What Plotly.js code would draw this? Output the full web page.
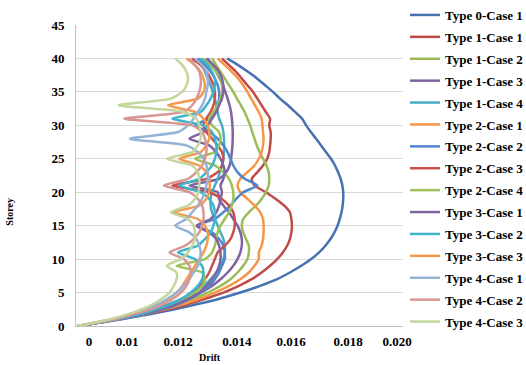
<!DOCTYPE html>
<html>
<head>
<meta charset="utf-8">
<script src="https://cdn.plot.ly/plotly-3.0.1.min.js"></script>
<style>
html,body{margin:0;padding:0;background:#ffffff;}
#chart{width:526px;height:365px;}
</style>
</head>
<body>
<div id="chart"></div>
<script>
// Storey levels (y values)
const storeys = [0,1,2,3,4,5,6,7,8,9,10,11,12,13,14,15,16,17,18,19,20,
                 21,22,23,24,25,26,27,28,29,30,31,32,33,34,35,36,37,38,39,40];

const seriesNames = ['Type 0-Case 1','Type 1-Case 1','Type 1-Case 2','Type 1-Case 3','Type 1-Case 4',
                     'Type 2-Case 1','Type 2-Case 2','Type 2-Case 3','Type 2-Case 4',
                     'Type 3-Case 1','Type 3-Case 2','Type 3-Case 3',
                     'Type 4-Case 1','Type 4-Case 2','Type 4-Case 3'];

// Drift values, in units of 1e-3 (storey 0 ... 40)
const t0c1 = [8.47,10.0,11.3,12.4,13.4,14.2,14.9,15.5,15.95,16.35,
              16.7,16.98,17.2,17.38,17.52,17.63,17.71,17.77,17.81,17.83,
              17.83,17.8,17.74,17.65,17.54,17.4,17.22,17.05,16.87,16.69,
              16.52,16.38,16.13,15.88,15.6,15.35,15.07,14.79,14.47,14.12,
              13.73];
const t1c1 = [8.47,9.9,11.1,12.1,12.9,13.6,14.15,14.6,14.95,15.25,
              15.5,15.7,15.85,15.95,16.0,16.02,16.0,15.95,15.75,15.45,
              15.1,14.7,14.6,14.8,15.0,15.15,15.22,15.25,15.27,15.27,
              15.22,15.25,15.1,14.95,14.8,14.65,14.45,14.25,14.05,13.8,
              13.55];
const t1c2 = [8.47,9.8,10.9,11.8,12.5,13.05,13.5,13.85,14.1,14.3,
              14.45,14.5,14.5,14.4,14.3,14.25,14.3,14.5,14.75,14.95,
              15.1,15.2,15.22,15.2,15.12,15.0,14.88,14.78,14.7,14.62,
              14.55,14.45,14.35,14.22,14.08,13.95,13.8,13.65,13.5,13.35,
              13.2];
const t1c3 = [8.47,9.75,10.8,11.65,12.3,12.8,13.2,13.5,13.75,13.95,
              14.1,14.2,14.25,14.25,14.2,14.1,13.95,13.8,13.6,13.45,
              13.4,12.4,13.45,13.7,13.82,13.87,13.9,13.92,13.93,13.93,
              13.92,13.9,13.87,13.82,13.75,13.67,13.58,13.47,13.35,13.2,
              13.05];
const t1c4 = [8.47,9.7,10.7,11.5,12.1,12.55,12.9,13.15,13.35,13.5,
              13.6,13.65,13.65,13.6,13.5,13.4,13.3,13.2,13.15,13.15,
              13.2,13.3,13.4,13.48,13.55,13.6,13.62,13.63,13.62,13.6,
              13.55,13.45,13.4,13.35,13.3,13.22,13.15,13.05,12.95,12.85,
              12.75];
const t2c1 = [8.47,9.85,11.0,11.95,12.7,13.3,13.8,14.2,14.5,14.7,
              14.85,14.85,14.95,15.0,15.02,15.02,15.0,14.9,14.7,14.45,
              14.2,14.1,14.2,14.45,14.7,14.85,14.95,15.0,15.02,15.0,
              14.98,14.95,14.85,14.72,14.58,14.45,14.3,14.12,13.9,13.65,
              13.4];
const t2c2 = [8.47,9.95,11.05,11.85,12.4,12.8,13.1,13.3,13.45,13.55,
              13.65,13.65,13.6,13.45,13.2,12.7,13.3,13.6,13.85,14.05,
              14.3,14.8,14.35,14.1,13.95,13.85,13.75,13.6,13.4,13.1,
              12.6,13.1,13.3,13.4,13.45,13.45,13.4,13.3,13.15,12.95,
              12.7];
const t2c3 = [8.47,9.9,10.9,11.65,12.15,12.5,12.75,12.95,13.1,13.2,
              13.3,13.4,13.65,13.85,13.95,14.0,14.0,13.95,13.8,13.55,
              13.1,11.8,13.0,13.4,13.55,13.6,13.55,13.4,13.2,13.0,
              12.9,13.0,13.15,13.25,13.3,13.3,13.25,13.15,13.0,12.8,
              12.5];
const t2c4 = [8.47,9.9,11.0,11.75,12.25,12.6,12.85,12.95,12.85,11.95,
              12.95,13.2,13.3,13.35,13.4,13.5,13.65,13.8,13.9,13.95,
              13.95,13.9,13.8,13.6,13.3,12.6,13.3,13.45,13.5,13.45,
              13.2,13.1,13.25,13.4,13.5,13.55,13.55,13.5,13.35,13.15,
              12.9];
const t3c1 = [8.47,9.9,11.0,11.8,12.35,12.75,13.0,13.2,13.35,13.45,
              13.5,13.5,13.45,13.35,13.1,12.65,13.15,13.35,13.45,13.5,
              13.55,13.5,13.6,13.65,13.6,13.5,13.35,13.1,12.4,12.9,
              13.05,13.2,13.35,13.45,13.55,13.6,13.6,13.55,13.45,13.25,
              13.0];
const t3c2 = [8.47,9.85,10.85,11.6,12.1,12.45,12.7,12.85,12.9,12.85,
              12.6,12.0,12.7,12.95,13.15,13.25,13.3,13.3,13.25,13.1,
              12.8,12.05,12.75,13.0,13.2,13.3,13.35,13.35,13.3,13.2,
              12.9,11.8,12.8,13.0,13.15,13.25,13.3,13.3,13.2,13.05,
              12.8];
const t3c3 = [8.47,9.7,10.55,11.2,11.65,11.95,12.15,12.3,12.45,12.6,
              12.75,12.9,13.0,13.05,13.05,12.95,12.7,11.85,12.75,13.0,
              13.1,13.12,13.1,13.0,12.75,12.05,12.8,13.0,13.1,13.1,
              13.05,12.9,12.6,11.65,12.7,12.9,12.95,12.9,12.8,12.6,
              12.3];
const t4c1 = [8.47,9.7,10.5,11.15,11.6,11.95,12.2,12.4,12.55,12.7,
              12.78,12.8,12.75,12.65,12.4,11.9,12.3,12.5,12.7,12.85,
              12.95,13.0,13.05,13.05,13.0,12.9,12.7,12.3,10.3,12.0,
              12.35,12.55,12.7,12.85,12.95,13.0,13.05,13.05,13.0,12.85,
              12.6];
const t4c2 = [8.47,9.75,10.65,11.35,11.8,12.1,12.3,12.4,12.45,12.4,
              12.2,11.7,12.25,12.55,12.75,12.85,12.9,12.9,12.85,12.7,
              12.4,11.5,12.35,12.65,12.85,12.95,13.0,13.0,12.95,12.85,
              12.5,10.1,12.2,12.5,12.65,12.75,12.8,12.8,12.75,12.6,
              12.4];
const t4c3 = [8.47,9.6,10.4,11.0,11.4,11.7,11.85,11.95,11.95,11.6,
              12.1,12.35,12.5,12.6,12.6,12.55,12.35,11.75,12.35,12.6,
              12.72,12.75,12.75,12.7,12.5,11.6,12.5,12.7,12.8,12.8,
              12.75,12.65,12.2,9.9,11.75,12.15,12.3,12.35,12.3,12.15,
              11.9];

const driftSeries = [t0c1,t1c1,t1c2,t1c3,t1c4,t2c1,t2c2,t2c3,t2c4,t3c1,t3c2,t3c3,t4c1,t4c2,t4c3];

// Tick labels of the drift axis as printed in the picture, and where they sit
const xTickText = ['0','0.01','0.012','0.014','0.016','0.018','0.020'];
const xTickVals = [0.00886,0.0102,0.012,0.01408,0.01599,0.018,0.01973];
const yTickVals = [0,5,10,15,20,25,30,35,40,45];

// Styles
const seriesColors = ['#4572B0','#BE4B48','#9BBB59','#7F62A1','#4BACC6',
                      '#F79646','#4F87CC','#C9504D','#9CC258',
                      '#8064A2','#3DB3CC','#F59A4C',
                      '#95B3D7','#D99694','#C3D69B'];

const serif = 'Liberation Serif, Times New Roman, serif';
const traces = driftSeries.map((arr, i) => ({
  type: 'scatter',
  mode: 'lines',
  name: seriesNames[i],
  legendgroup: 'g' + i,
  x: arr.map(v => v / 1000),
  y: storeys,
  line: {color: seriesColors[i], width: 2.5, shape: 'spline', smoothing: 0.6},
  hoverinfo: 'x+y+name'
}));

const tickFont = {family: serif, size: 13, color: '#000000', weight: 'bold'};

const layout = {
  width: 526,
  height: 365,
  margin: {l: 76, r: 123, t: 25, b: 39, pad: 0},
  paper_bgcolor: '#ffffff',
  plot_bgcolor: '#ffffff',
  showlegend: true,
  legend: {
    xref: 'container', yref: 'container',
    x: 405 / 526, y: 1.005, xanchor: 'left', yanchor: 'top',
    font: {family: serif, size: 13, color: '#000000', weight: 'bold'},
    tracegroupgap: 2,
    maxheight: 400,
    bgcolor: 'rgba(0,0,0,0)',
    borderwidth: 0
  },
  xaxis: {
    range: [0.0084, 0.01994],
    tickmode: 'array',
    tickvals: xTickVals,
    ticktext: xTickText,
    showgrid: false,
    zeroline: false,
    showline: true,
    linecolor: '#BFBFBF',
    linewidth: 1,
    ticks: '',
    tickfont: tickFont,
    ticklabelstandoff: 3
  },
  yaxis: {
    range: [0, 45],
    tickmode: 'array',
    tickvals: yTickVals,
    showgrid: true,
    gridcolor: '#D9D9D9',
    gridwidth: 1,
    zeroline: false,
    showline: true,
    linecolor: '#BFBFBF',
    linewidth: 1,
    ticks: '',
    tickfont: tickFont,
    ticklabelstandoff: 8
  },
  annotations: [
    {text: 'Storey', xref: 'paper', yref: 'paper', x: -0.2018, y: 0.38,
     showarrow: false, textangle: -90, xanchor: 'center', yanchor: 'middle',
     font: {family: serif, size: 10, color: '#000000', weight: 'bold'}},
    {text: 'Drift', xref: 'paper', yref: 'paper', x: 0.41, y: -0.106,
     showarrow: false, xanchor: 'center', yanchor: 'middle',
     font: {family: serif, size: 10, color: '#000000', weight: 'bold'}}
  ]
};

Plotly.newPlot('chart', traces, layout, {displayModeBar: false, staticPlot: true});
</script>
</body>
</html>
